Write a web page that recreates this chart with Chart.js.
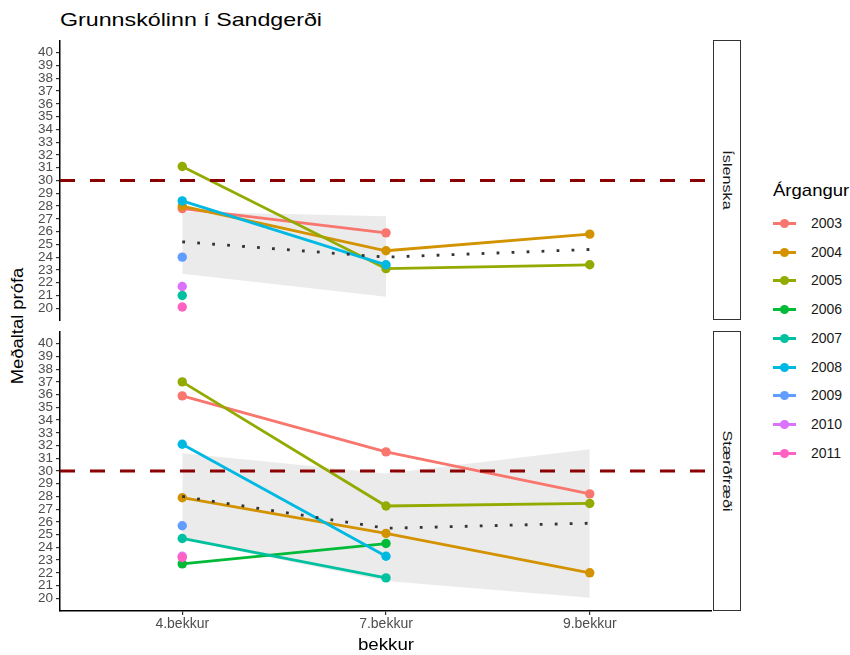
<!DOCTYPE html>
<html>
<head>
<meta charset="utf-8">
<script src="https://cdn.jsdelivr.net/npm/chart.js@4/dist/chart.umd.min.js"></script>
<style>
    body { margin: 0; background: #fff; font-family: "Liberation Sans", Arial, sans-serif; }
    #page { position: relative; width: 850px; height: 655px; overflow: hidden; }
    .abs { position: absolute; white-space: nowrap; }
    #title { left: 60px; top: 9px; font-size: 18.5px; color: #000; transform: scaleX(1.255); transform-origin: left center; }
    #ylabel { left: 18px; top: 326px; font-size: 16px; color: #000; transform: translate(-50%, -50%) rotate(-90deg) scaleX(1.15); }
    #xlabel { left: 386px; top: 645px; font-size: 16px; color: #000; transform: translate(-50%, -50%) scaleX(1.17); }
    .strip { left: 713px; width: 26px; border: 1.4px solid #333; background: #fff; }
    .strip span { position: absolute; left: 50%; top: 50%; transform: translate(-50%, -50%) rotate(90deg) scaleX(1.35); font-size: 12px; color: #1a1a1a; white-space: nowrap; }
    #legend-title { left: 773px; top: 181px; font-size: 17px; color: #000; transform: scaleX(1.09); transform-origin: left center; }
    .key { left: 773px; width: 23px; height: 3px; }
    .key i { position: absolute; left: 7px; top: -3px; width: 9px; height: 9px; border-radius: 50%; background: inherit; }
    .lab { left: 811px; font-size: 14px; color: #1a1a1a; }
</style>
</head>
<body>
<div id="page">
    <div id="title" class="abs">Grunnskólinn í Sandgerði</div>
    <div id="ylabel" class="abs">Meðaltal prófa</div>
    <div class="abs" style="left:0;top:40px;"><canvas id="chart-isl" width="712" height="281"></canvas></div>
    <div class="abs" style="left:0;top:331px;"><canvas id="chart-sta" width="712" height="324"></canvas></div>
    <div id="xlabel" class="abs">bekkur</div>
    <div class="abs strip" style="top:40px;height:278px;"><span id="strip-isl"></span></div>
    <div class="abs strip" style="top:331px;height:278px;"><span id="strip-sta"></span></div>
    <div id="legend-title" class="abs">Árgangur</div>
    <div id="legend"></div>
</div>
<script>
// --- Data ---
const xLabels = ['4.bekkur', '7.bekkur', '9.bekkur'];
const years = ['2003', '2004', '2005', '2006', '2007', '2008', '2009', '2010', '2011'];
const panels = ['Íslenska', 'Stærðfræði'];
const yTicks = [20, 21, 22, 23, 24, 25, 26, 27, 28, 29, 30, 31, 32, 33, 34, 35, 36, 37, 38, 39, 40];
const refLine = 30;

// one row per year, one column per bekkur
const islenskaValues = [
    [27.8, 25.9, null],
    [28.0, 24.5, 25.8],
    [31.1, 23.1, 23.4],
    [null, null, null],
    [21.0, null, null],
    [28.4, 23.4, null],
    [24.0, null, null],
    [21.7, null, null],
    [20.1, null, null]
];
const staerdfraediValues = [
    [35.9, 31.5, 28.2],
    [27.9, 25.1, 22.0],
    [37.0, 27.25, 27.45],
    [22.7, 24.3, null],
    [24.7, 21.6, null],
    [32.1, 23.3, null],
    [25.7, null, null],
    [23.3, null, null],
    [23.2, null, null]
];

const islTrend = [25.2, 24.0, 24.6];
const islBandHigh = [27.55, 27.2, null];
const islBandLow = [22.7, 20.9, null];
const staTrend = [28.0, 25.5, 25.9];
const staBandHigh = [31.4, 29.8, 31.7];
const staBandLow = [24.6, 21.35, 20.05];

// --- Stíll ---
const yearColors = ['#F8766D', '#D39200', '#93AA00', '#00BA38', '#00C19F', '#00B9E3', '#619CFF', '#DB72FB', '#FF61C3'];
const FONT = '"Liberation Sans", Arial, sans-serif';

const toPoints = arr => arr.map((v, i) => ({ x: i + 1, y: v }));

function buildDatasets(values, trend, bandHigh, bandLow) {
    const ds = [];
    ds.push({ data: toPoints(bandHigh), borderWidth: 0, pointRadius: 0, fill: '+1', backgroundColor: '#EBEBEB', order: 30 });
    ds.push({ data: toPoints(bandLow), borderWidth: 0, pointRadius: 0, fill: false, order: 31 });
    values.forEach((row, i) => {
        ds.push({
            data: toPoints(row), borderColor: yearColors[i], backgroundColor: yearColors[i],
            borderWidth: 2.8, pointRadius: 4.7, pointBorderWidth: 0, pointHoverRadius: 4.7,
            fill: false, spanGaps: false, order: 20 - i
        });
    });
    ds.push({ data: toPoints(trend), borderColor: '#333', borderWidth: 2.8, borderDash: [2.8, 12.2], pointRadius: 0, fill: false, order: 2 });
    ds.push({ data: [{ x: 0.4, y: refLine }, { x: 3.6, y: refLine }], borderColor: '#8B0000', borderWidth: 2.8, borderDash: [15, 15], pointRadius: 0, fill: false, order: 1 });
    return ds;
}

function makeChart(id, values, trend, bandHigh, bandLow, showX) {
    const ctx = document.getElementById(id).getContext('2d');
    return new Chart(ctx, {
        type: 'line',
        data: { datasets: buildDatasets(values, trend, bandHigh, bandLow) },
        options: {
            responsive: false, animation: false, devicePixelRatio: 1,
            layout: { padding: 0, autoPadding: false },
            plugins: { legend: { display: false }, tooltip: { enabled: false } },
            scales: {
                x: {
                    type: 'linear', min: 0.4, max: 3.6, display: showX,
                    afterBuildTicks: s => { s.ticks = xLabels.map((l, i) => ({ value: i + 1 })); },
                    afterFit: s => {
                        if (showX) s.height = 44;
                        s.paddingLeft = 0; s.paddingRight = 0;
                    },
                    ticks: { callback: v => xLabels[v - 1], color: '#4D4D4D', font: { family: FONT, size: 14 }, padding: 1, maxRotation: 0 },
                    grid: { display: true, drawOnChartArea: false, drawTicks: true, tickLength: 4, color: '#333', lineWidth: 1.2 },
                    border: { display: true, color: '#000', width: 1.5 }
                },
                y: {
                    type: 'linear', min: 19, max: 41,
                    afterBuildTicks: s => { s.ticks = yTicks.map(v => ({ value: v })); },
                    afterFit: s => { s.width = 60; s.paddingTop = 0; s.paddingBottom = 0; },
                    ticks: { color: '#4D4D4D', font: { family: FONT, size: 13.5 }, padding: 3, autoSkip: false },
                    grid: { display: true, drawOnChartArea: false, drawTicks: true, tickLength: 4, color: '#333', lineWidth: 1.2 },
                    border: { display: true, color: '#000', width: 1.5 }
                }
            }
        }
    });
}

makeChart('chart-isl', islenskaValues, islTrend, islBandHigh, islBandLow, false);
makeChart('chart-sta', staerdfraediValues, staTrend, staBandHigh, staBandLow, true);

document.getElementById('strip-isl').innerText = panels[0];
document.getElementById('strip-sta').innerText = panels[1];

// --- Skýringar ---
const legend = document.getElementById('legend');
years.forEach((yr, i) => {
    const cy = 223.5 + i * 28.7;
    legend.insertAdjacentHTML('beforeend',
        `<div class="abs key" style="top:${cy - 1.5}px;background:${yearColors[i]}"><i></i></div>` +
        `<div class="abs lab" style="top:${cy - 8.5}px">${yr}</div>`);
});
</script>
</body>
</html>
